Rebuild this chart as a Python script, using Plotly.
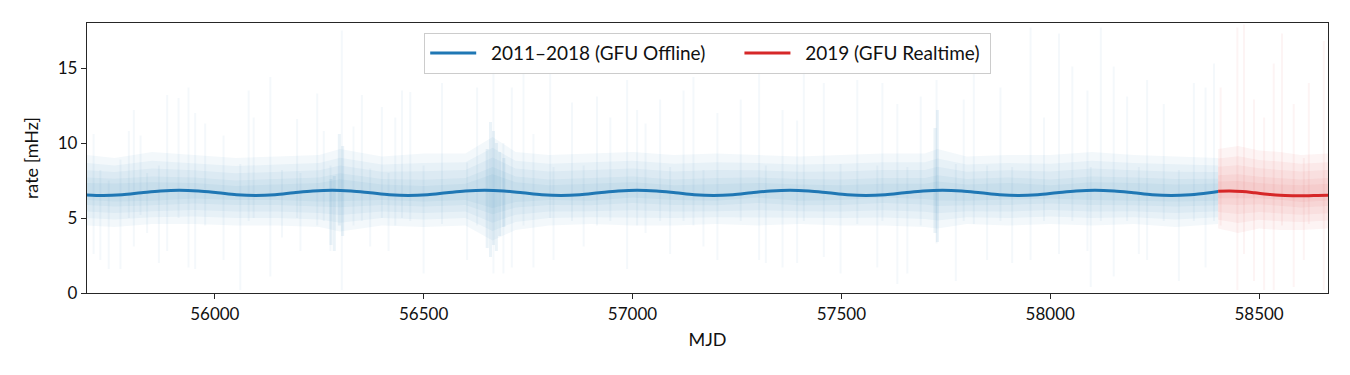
import plotly.graph_objects as go

# ---------------- data ----------------
# Smooth seasonal rate curve, 2011-2018 (GFU Offline)
offline_mjd = [55687, 55733, 55778, 55824, 55870, 55915, 55961, 56007,
               56052, 56098, 56144, 56189, 56235, 56281, 56326, 56372,
               56418, 56463, 56509, 56555, 56600, 56646, 56692, 56737,
               56783, 56829, 56874, 56920, 56966, 57011, 57057, 57103,
               57148, 57194, 57240, 57285, 57331, 57377, 57422, 57468,
               57514, 57559, 57605, 57651, 57696, 57742, 57788, 57833,
               57879, 57925, 57970, 58016, 58062, 58107, 58153, 58199,
               58244, 58290, 58336, 58381, 58402]
offline_rate = [6.55, 6.50, 6.55, 6.68, 6.80, 6.85, 6.80, 6.68,
                6.55, 6.50, 6.55, 6.68, 6.80, 6.85, 6.80, 6.68,
                6.55, 6.50, 6.55, 6.68, 6.80, 6.85, 6.80, 6.68,
                6.55, 6.50, 6.55, 6.68, 6.80, 6.85, 6.80, 6.68,
                6.55, 6.50, 6.55, 6.68, 6.80, 6.85, 6.80, 6.68,
                6.55, 6.50, 6.55, 6.68, 6.80, 6.85, 6.80, 6.68,
                6.55, 6.50, 6.55, 6.68, 6.80, 6.85, 6.80, 6.68,
                6.55, 6.50, 6.55, 6.68, 6.76]

# Smooth rate curve, 2019 (GFU Realtime)
realtime_mjd = [58402, 58430, 58460, 58490, 58520, 58550, 58580, 58610, 58640, 58665]
realtime_rate = [6.78, 6.80, 6.76, 6.68, 6.59, 6.52, 6.49, 6.48, 6.50, 6.52]

# Scatter envelope of the daily rates (dense core and paler outer part)
band_mjd = [55694, 55760, 55850, 55950, 56050, 56150, 56250, 56300, 56400, 56500,
            56600, 56665, 56720, 56800, 56900, 57000, 57100, 57200, 57300, 57400,
            57500, 57600, 57700, 57730, 57800, 57900, 58000, 58100, 58200, 58300, 58402]
core_lo = [5.6, 5.5, 5.6, 5.7, 5.6, 5.6, 5.5, 5.4, 5.6, 5.5, 5.6, 4.9, 5.4, 5.6, 5.6, 5.7,
           5.6, 5.6, 5.7, 5.6, 5.6, 5.7, 5.6, 5.5, 5.6, 5.6, 5.7, 5.6, 5.6, 5.5, 5.6]
core_hi = [8.0, 7.9, 8.1, 8.0, 7.8, 7.9, 8.0, 8.3, 7.9, 7.9, 8.0, 8.8, 8.1, 7.9, 8.0, 8.1,
           7.9, 8.0, 8.0, 7.9, 7.9, 8.0, 8.0, 8.2, 7.9, 8.0, 7.9, 8.1, 8.0, 7.9, 7.9]
outer_lo = [4.5, 4.4, 4.6, 4.6, 4.5, 4.5, 4.4, 4.1, 4.5, 4.4, 4.5, 3.5, 4.2, 4.5, 4.6, 4.5,
            4.5, 4.6, 4.5, 4.6, 4.5, 4.5, 4.4, 4.3, 4.6, 4.5, 4.6, 4.5, 4.6, 4.4, 4.6]
outer_hi = [9.2, 9.0, 9.4, 9.2, 9.0, 9.1, 9.2, 9.6, 9.1, 9.3, 9.3, 10.4, 9.4, 9.2, 9.3, 9.4,
            9.2, 9.3, 9.2, 9.1, 9.2, 9.3, 9.3, 9.6, 9.1, 9.2, 9.2, 9.4, 9.2, 9.1, 9.0]

rt_band_mjd = [58402, 58450, 58500, 58550, 58600, 58665]
rt_core_lo = [5.6, 5.5, 5.6, 5.5, 5.4, 5.5]
rt_core_hi = [8.2, 8.3, 8.1, 8.0, 7.9, 8.0]
rt_outer_lo = [4.3, 4.0, 4.3, 4.2, 4.2, 4.3]
rt_outer_hi = [9.6, 9.8, 9.5, 9.4, 9.2, 9.3]

# Individual large error bars (offline)
bar_mjd = [55710, 55726, 55746, 55774, 55794, 55806, 55822, 55838, 55866, 55886,
           55913, 55937, 55953, 55977, 56021, 56061, 56081, 56093, 56133, 56161,
           56197, 56205, 56245, 56261, 56277, 56304, 56332, 56352, 56372, 56400,
           56416, 56432, 56448, 56468, 56500, 56544, 56604, 56628, 56667, 56691,
           56711, 56739, 56763, 56803, 56811, 56855, 56883, 56915, 56947, 56987,
           57011, 57031, 57066, 57090, 57122, 57146, 57170, 57203, 57259, 57303,
           57319, 57359, 57394, 57410, 57458, 57498, 57538, 57586, 57598, 57634,
           57658, 57690, 57728, 57774, 57793, 57817, 57849, 57881, 57909, 57953,
           57985, 58021, 58053, 58089, 58097, 58121, 58152, 58184, 58212, 58232,
           58272, 58308, 58344, 58372, 58392]
bar_lo = [2.6, 2.2, 1.6, 1.6, 5.0, 3.1, 5.2, 4.0, 2.0, 2.8,
          5.0, 1.7, 1.6, 4.5, 2.2, 0.2, 4.8, 5.0, 1.1, 3.7,
          5.0, 2.8, 4.5, 4.8, 2.8, 0.2, 4.5, 4.8, 3.1, 5.0,
          2.8, 4.5, 5.0, 4.8, 1.3, 4.6, 2.2, 4.5, 1.3, 1.3,
          1.7, 4.5, 1.7, 5.0, 2.2, 4.8, 3.1, 4.5, 4.8, 1.6,
          4.5, 4.0, 4.8, 2.6, 4.8, 4.5, 3.1, 2.2, 4.8, 2.2,
          2.0, 1.7, 2.0, 4.8, 2.4, 1.3, 4.6, 1.7, 4.8, 0.6,
          1.3, 4.5, 3.3, 0.8, 4.8, 4.6, 2.2, 4.8, 2.0, 2.2,
          4.8, 2.6, 4.8, 2.8, 0.4, 4.8, 1.1, 4.8, 2.6, 2.2,
          4.8, 0.8, 4.8, 1.7, 4.8]
bar_hi = [10.6, 8.2, 7.5, 8.9, 10.8, 12.2, 10.5, 8.0, 8.5, 13.2,
          13.0, 13.7, 12.0, 11.3, 10.5, 8.6, 13.5, 11.7, 14.4, 8.2,
          11.6, 8.0, 13.3, 10.8, 8.5, 17.5, 11.1, 13.2, 8.3, 12.4,
          8.0, 11.7, 13.5, 13.4, 8.5, 14.0, 8.7, 13.7, 14.8, 10.0,
          13.7, 14.6, 10.6, 14.6, 8.4, 12.7, 8.5, 13.1, 11.7, 14.2,
          12.2, 11.3, 12.9, 8.4, 13.5, 14.4, 8.2, 12.0, 12.9, 14.8,
          8.5, 12.2, 11.5, 14.8, 14.0, 8.6, 14.2, 8.5, 14.0, 12.6,
          8.4, 13.1, 14.2, 8.6, 12.9, 14.6, 8.5, 13.7, 8.4, 17.7,
          11.7, 17.3, 15.1, 13.5, 8.4, 17.7, 15.1, 13.1, 8.4, 14.2,
          12.6, 8.2, 14.0, 13.7, 15.3]

# Denser bursts of scatter (offline)
burst_mjd = [56278, 56286, 56298, 56306, 56652, 56660, 56667, 56674, 56682, 56692,
             57724, 57730]
burst_lo = [3.2, 2.8, 4.5, 3.8, 3.0, 2.4, 3.2, 2.8, 3.8, 4.4, 4.0, 3.4]
burst_hi = [7.6, 7.8, 10.6, 9.8, 9.6, 11.4, 10.8, 10.0, 9.4, 9.0, 11.0, 12.2]

# Individual large error bars (realtime)
rt_bar_mjd = [58408, 58448, 58464, 58488, 58512, 58535, 58555, 58583, 58607, 58619, 58655]
rt_bar_lo = [4.5, 0.2, 2.6, 0.8, 0.2, 0.2, 4.5, 0.4, 2.2, 4.6, 0.2]
rt_bar_hi = [13.7, 17.7, 17.9, 12.9, 11.7, 15.3, 17.3, 12.6, 9.0, 14.0, 16.8]

x_ticks = [56000, 56500, 57000, 57500, 58000, 58500]
x_tick_labels = ["56000", "56500", "57000", "57500", "58000", "58500"]
y_ticks = [0, 5, 10, 15]
y_tick_labels = ["0", "5", "10", "15"]

BLUE = "#1f77b4"
RED = "#d62728"
FONT = "Lato"
# fade layers: fraction of the way from the core envelope (0) to the outer envelope (1)
FADE_LEVELS = [1.0, 0.55, 0.15, -0.25, -0.55]
NBSP = "\u00a0"


def rgba(hex_color, a):
    h = hex_color.lstrip("#")
    r, g, b = int(h[0:2], 16), int(h[2:4], 16), int(h[4:6], 16)
    return f"rgba({r},{g},{b},{a})"


def segments(xs, lo, hi):
    sx, sy = [], []
    for x, a, b in zip(xs, lo, hi):
        sx += [x, x, None]
        sy += [a, b, None]
    return sx, sy


fig = go.Figure()


def add_band(xs, lo, hi, color, alpha):
    fig.add_trace(go.Scatter(x=xs, y=lo, mode="lines", line=dict(width=0),
                             showlegend=False, hoverinfo="skip"))
    fig.add_trace(go.Scatter(x=xs, y=hi, mode="lines", line=dict(width=0),
                             fill="tonexty", fillcolor=rgba(color, alpha),
                             showlegend=False, hoverinfo="skip"))


def add_faded(xs, clo, chi, olo, ohi, color, alpha):
    for f in FADE_LEVELS:
        lo = [c + f * (o - c) for c, o in zip(clo, olo)]
        hi = [c + f * (o - c) for c, o in zip(chi, ohi)]
        add_band(xs, lo, hi, color, alpha)


def add_bars(xs, lo, hi, color, alpha, width):
    sx, sy = segments(xs, lo, hi)
    fig.add_trace(go.Scatter(x=sx, y=sy, mode="lines",
                             line=dict(color=rgba(color, alpha), width=width),
                             showlegend=False, hoverinfo="skip"))


# scatter of offline data
add_bars(bar_mjd, bar_lo, bar_hi, BLUE, 0.05, 2)
add_faded(band_mjd, core_lo, core_hi, outer_lo, outer_hi, BLUE, 0.055)
add_bars(burst_mjd, burst_lo, burst_hi, BLUE, 0.09, 3)

# scatter of realtime data
add_bars(rt_bar_mjd, rt_bar_lo, rt_bar_hi, RED, 0.05, 2)
add_faded(rt_band_mjd, rt_core_lo, rt_core_hi, rt_outer_lo, rt_outer_hi, RED, 0.05)

# smooth curves
fig.add_trace(go.Scatter(x=offline_mjd, y=offline_rate, mode="lines",
                         line=dict(color=BLUE, width=3, shape="spline"),
                         name=NBSP * 2 + "2011\u20132018 (GFU Offline)" + NBSP * 6))
fig.add_trace(go.Scatter(x=realtime_mjd, y=realtime_rate, mode="lines",
                         line=dict(color=RED, width=3, shape="spline"),
                         name=NBSP * 2 + "2019 (GFU Realtime)" + NBSP))

axis_common = dict(showline=True, mirror=True, linecolor="#262626", linewidth=1.3,
                   ticks="outside", ticklen=5, tickwidth=1.3, tickcolor="#262626",
                   showgrid=False, zeroline=False, automargin=False,
                   tickfont=dict(family=FONT, size=17, color="#111"))

# the page body has an 8px margin, so the figure is 16px smaller than the window
fig.update_layout(
    width=1334, height=359,
    margin=dict(l=79, r=14, t=15, b=74),
    paper_bgcolor="white", plot_bgcolor="white",
    font=dict(family=FONT, size=17, color="#111"),
    xaxis=dict(range=[55694, 58665], tickvals=x_ticks, ticktext=x_tick_labels,
               title=dict(text="MJD", font=dict(family=FONT, size=18), standoff=10),
               **axis_common),
    yaxis=dict(range=[0, 18], tickvals=y_ticks, ticktext=y_tick_labels,
               title=dict(text="rate [mHz]", font=dict(family=FONT, size=18), standoff=14),
               **axis_common),
    legend=dict(orientation="h", x=0.5, xanchor="center", y=0.963, yanchor="top",
                traceorder="normal",
                bgcolor="rgba(255,255,255,0.85)", bordercolor="#cccccc", borderwidth=1.2,
                font=dict(family=FONT, size=19, color="#111"),
                itemwidth=46, tracegroupgap=0),
    showlegend=True,
)

fig.write_html("out.html")
